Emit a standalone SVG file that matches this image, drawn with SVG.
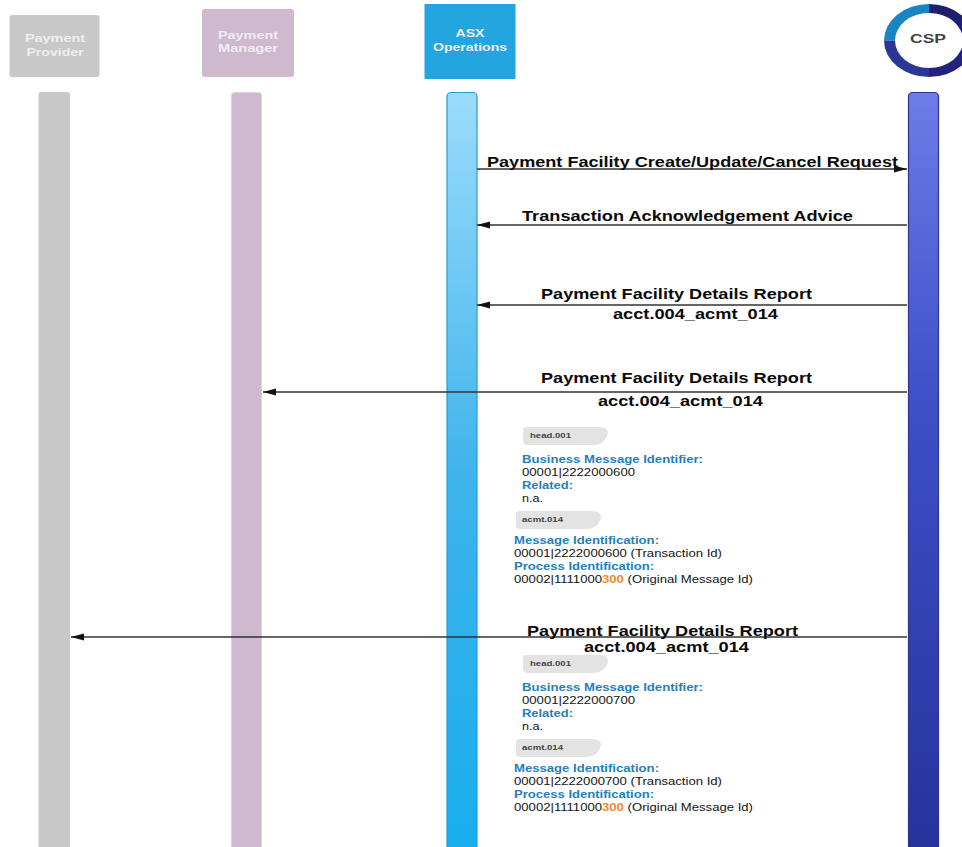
<svg xmlns="http://www.w3.org/2000/svg" width="962" height="847" viewBox="0 0 962 847">
<style>
text{font-family:"Liberation Sans",Arial,sans-serif}
.h{font-size:11.500px;font-weight:bold;fill:#f1edf1;text-anchor:middle}
.m{font-size:15px;font-weight:bold;fill:#0a0a0a}
.b{font-size:11px;font-weight:bold;fill:#1f80bd}
.v{font-size:11px;fill:#151515}
.t{font-size:8px;font-weight:bold;fill:#444}
.o{fill:#ee8a2c;font-weight:bold}
.bub{fill:#e3e3e3}
.c{stroke:#333;stroke-width:1.600;fill:none}
</style>
<defs>
<linearGradient id="gb" x1="0" y1="0" x2="0" y2="1"><stop offset="0" stop-color="#9bdcfb"/><stop offset="0.5" stop-color="#3fb4ec"/><stop offset="1" stop-color="#18aeee"/></linearGradient>
<linearGradient id="gc" x1="0" y1="0" x2="0" y2="1"><stop offset="0" stop-color="#6d7ce8"/><stop offset="0.4" stop-color="#3f50c8"/><stop offset="1" stop-color="#26329c"/></linearGradient>
<marker id="a" markerWidth="14" markerHeight="8" refX="13" refY="4" orient="auto" markerUnits="userSpaceOnUse"><path d="M0 0.500L13 4L0 7.500Z" fill="#111"/></marker>
<path id="bb" class="bub" d="M3 0H76Q85 0 85 6Q82 18 70 18H4Q0 18 0 14V3Q0 0 3 0Z"/>
</defs>

<g id="payment-provider">
<rect x="9.500" y="15" width="90" height="62" rx="3" fill="#c8c8c8"/>
<text class="h" x="55" y="42" textLength="60" lengthAdjust="spacingAndGlyphs">Payment</text>
<text class="h" x="55" y="56" textLength="57" lengthAdjust="spacingAndGlyphs">Provider</text>
<rect x="38.500" y="92" width="31.500" height="760" rx="3" fill="#c8c8c8"/>
</g>
<g id="payment-manager">
<rect x="202" y="9" width="92" height="68" rx="3" fill="#cfb9cf"/>
<text class="h" x="248" y="39" textLength="60" lengthAdjust="spacingAndGlyphs">Payment</text>
<text class="h" x="248" y="52" textLength="60" lengthAdjust="spacingAndGlyphs">Manager</text>
<rect x="231.500" y="92.500" width="30" height="760" rx="3" fill="#cfb9cf" stroke="#e0cfe0" stroke-width="1"/>
</g>
<g id="asx-operations">
<rect x="424.500" y="4" width="91" height="75" fill="#23a6e0"/>
<text class="h" x="470" y="37" textLength="29" lengthAdjust="spacingAndGlyphs">ASX</text>
<text class="h" x="470" y="51" textLength="74" lengthAdjust="spacingAndGlyphs">Operations</text>
<rect x="447" y="92.500" width="30" height="760" rx="4" fill="url(#gb)" stroke="#1e9fdc" stroke-width="1.200"/>
</g>
<g id="csp">
<path d="M884 40.500A45 36.500 0 0 1 929 4V40.500Z" fill="#1a85c4"/>
<path d="M929 4A45 36.500 0 0 1 974 40.500H929Z" fill="#1f1f6e"/>
<path d="M974 40.500A45 36.500 0 0 1 929 77V40.500Z" fill="#23237e"/>
<path d="M929 77A45 36.500 0 0 1 884 40.500H929Z" fill="#2a3796"/>
<ellipse cx="929" cy="40.500" rx="34" ry="27.500" fill="#fff"/>
<text x="928" y="43" font-size="13" font-weight="bold" fill="#444" text-anchor="middle" textLength="36" lengthAdjust="spacingAndGlyphs">CSP</text>
<rect x="908.500" y="92.500" width="30" height="760" rx="4" fill="url(#gc)" stroke="#2c3590" stroke-width="1.200"/>
</g>

<g id="connectors">
<line class="c" x1="477" y1="169" x2="907" y2="169" marker-end="url(#a)"/>
<line class="c" x1="907" y1="225" x2="477" y2="225" marker-end="url(#a)"/>
<line class="c" x1="907" y1="305" x2="477" y2="305" marker-end="url(#a)"/>
<line class="c" x1="907" y1="392" x2="263" y2="392" marker-end="url(#a)"/>
<line class="c" x1="907" y1="637" x2="71" y2="637" marker-end="url(#a)"/>
</g>

<g id="labels">
<text class="m" x="487" y="167" textLength="411" lengthAdjust="spacingAndGlyphs">Payment Facility Create/Update/Cancel Request</text>
<text class="m" x="522" y="221" textLength="331" lengthAdjust="spacingAndGlyphs">Transaction Acknowledgement Advice</text>
<text class="m" x="541" y="299" textLength="271" lengthAdjust="spacingAndGlyphs">Payment Facility Details Report</text>
<text class="m" x="613" y="319" textLength="165" lengthAdjust="spacingAndGlyphs">acct.004_acmt_014</text>
<text class="m" x="541" y="383" textLength="271" lengthAdjust="spacingAndGlyphs">Payment Facility Details Report</text>
<text class="m" x="598" y="406" textLength="165" lengthAdjust="spacingAndGlyphs">acct.004_acmt_014</text>
<text class="m" x="527" y="636" textLength="271" lengthAdjust="spacingAndGlyphs">Payment Facility Details Report</text>
<text class="m" x="584" y="652" textLength="165" lengthAdjust="spacingAndGlyphs">acct.004_acmt_014</text>
</g>

<g id="note-1">
<use href="#bb" x="523" y="427"/>
<text class="t" x="530" y="438" textLength="41" lengthAdjust="spacingAndGlyphs">head.001</text>
<text class="b" x="522" y="463" textLength="181" lengthAdjust="spacingAndGlyphs">Business Message Identifier:</text>
<text class="v" x="522" y="475.500" textLength="113" lengthAdjust="spacingAndGlyphs">00001|2222000600</text>
<text class="b" x="522" y="488.500" textLength="51" lengthAdjust="spacingAndGlyphs">Related:</text>
<text class="v" x="522" y="501.500" textLength="21" lengthAdjust="spacingAndGlyphs">n.a.</text>
<use href="#bb" x="516" y="511"/>
<text class="t" x="522" y="522" textLength="41" lengthAdjust="spacingAndGlyphs">acmt.014</text>
<text class="b" x="514" y="543.500" textLength="145" lengthAdjust="spacingAndGlyphs">Message Identification:</text>
<text class="v" x="514" y="556.500" textLength="208" lengthAdjust="spacingAndGlyphs">00001|2222000600 (Transaction Id)</text>
<text class="b" x="514" y="569.500" textLength="140" lengthAdjust="spacingAndGlyphs">Process Identification:</text>
<text class="v" x="514" y="582.500" textLength="239" lengthAdjust="spacingAndGlyphs">00002|1111000<tspan class="o">300</tspan> (Original Message Id)</text>
</g>

<g id="note-2">
<use href="#bb" x="523" y="655"/>
<text class="t" x="530" y="666" textLength="41" lengthAdjust="spacingAndGlyphs">head.001</text>
<text class="b" x="522" y="691" textLength="181" lengthAdjust="spacingAndGlyphs">Business Message Identifier:</text>
<text class="v" x="522" y="703.500" textLength="113" lengthAdjust="spacingAndGlyphs">00001|2222000700</text>
<text class="b" x="522" y="716.500" textLength="51" lengthAdjust="spacingAndGlyphs">Related:</text>
<text class="v" x="522" y="729.500" textLength="21" lengthAdjust="spacingAndGlyphs">n.a.</text>
<use href="#bb" x="516" y="739"/>
<text class="t" x="522" y="750" textLength="41" lengthAdjust="spacingAndGlyphs">acmt.014</text>
<text class="b" x="514" y="771.500" textLength="145" lengthAdjust="spacingAndGlyphs">Message Identification:</text>
<text class="v" x="514" y="784.500" textLength="208" lengthAdjust="spacingAndGlyphs">00001|2222000700 (Transaction Id)</text>
<text class="b" x="514" y="797.500" textLength="140" lengthAdjust="spacingAndGlyphs">Process Identification:</text>
<text class="v" x="514" y="810.500" textLength="239" lengthAdjust="spacingAndGlyphs">00002|1111000<tspan class="o">300</tspan> (Original Message Id)</text>
</g>
</svg>
